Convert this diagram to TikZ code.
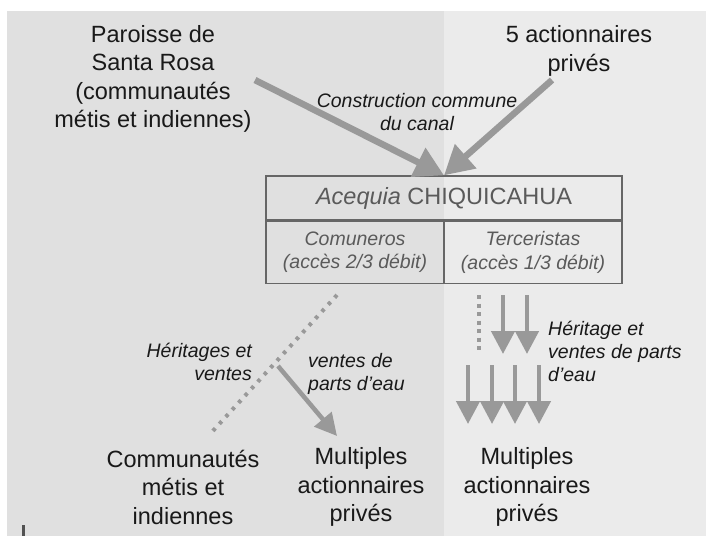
\documentclass[tikz,border=0pt]{standalone}
\usepackage{fontspec}
\setmainfont{Liberation Sans}
\usetikzlibrary{arrows.meta, positioning}

\definecolor{panelL}{HTML}{E0E0E0}
\definecolor{panelR}{HTML}{EBEBEB}
\definecolor{arrowgray}{HTML}{999999}
\definecolor{boxgray}{HTML}{666666}
\definecolor{cellgray}{HTML}{5A5A5A}

\begin{document}
\begin{tikzpicture}[x=1pt, y=-1pt,
  big/.style={font=\fontsize{23.5}{28.5}\selectfont, align=center, text=black!90, inner sep=0pt},
  lab/.style={font=\fontsize{19.5}{23}\selectfont\itshape, text=black!90, inner sep=0pt},
  cell/.style={draw=boxgray, line width=1.3pt, text=cellgray, inner sep=0pt, align=center},
  flow/.style={draw=arrowgray, line width=4.5pt, -{Triangle[length=23pt, width=23pt]}},
  dots/.style={draw=arrowgray, line width=4pt, dash pattern=on 4pt off 4.5pt}]
  \useasboundingbox (0,0) rectangle (706,536);

  % Background panels
  \fill[white] (0,0) rectangle (706,536);
  \fill[panelL] (7,11) rectangle (444,536);
  \fill[panelR] (444,11) rectangle (706,536);
  \draw[line width=3pt, color=boxgray!80!black] (23,525) -- (23,536);

  % Founders
  \node[big] (paroisse) at (153,79) {Paroisse de\\Santa Rosa\\(communautés\\métis et indiennes)};
  \node[big] (prives) at (579,51) {5 actionnaires\\privés};

  % Canal table
  \node[cell, minimum width=356pt, minimum height=44pt,
        font=\fontsize{23.5}{27}\selectfont] (acequia) at (444,198) {\textit{Acequia} CHIQUICAHUA};
  \node[cell, minimum width=178pt, minimum height=62pt, anchor=north west,
        font=\fontsize{19.5}{23.5}\selectfont\itshape] (comuneros) at (acequia.south west)
        {Comuneros\\(accès 2/3 débit)};
  \node[cell, minimum width=178pt, minimum height=62pt, anchor=north east,
        font=\fontsize{19.5}{23.5}\selectfont\itshape] (terceristas) at (acequia.south east)
        {Terceristas\\(accès 1/3 débit)};

  % Construction arrows
  \coordinate (pStart) at (255,80);
  \coordinate (aStart) at (552,80);
  \draw[flow, line width=6.5pt, -{Triangle[length=29pt, width=31pt]}] (pStart) -- (acequia.north);
  \draw[flow, line width=6.5pt, -{Triangle[length=29pt, width=31pt]}] (aStart) -- (acequia.north);
  \node[lab, align=center] (construction) at (417,112) {Construction commune\\du canal};

  % Comuneros side
  \coordinate (dotTop) at (337,295);
  \coordinate (dotBot) at (211,433);
  \draw[dots, dash pattern=on 3.5pt off 6pt] (dotTop) -- (dotBot);
  \coordinate (venteStart) at (278,366);
  \coordinate (venteEnd) at (337,436);
  \draw[flow, -{Triangle[length=22pt, width=22pt]}] (venteStart) -- (venteEnd);
  \node[lab, align=right, anchor=east] (heritages) at (252,362) {Héritages et\\ventes};
  \node[lab, align=left, anchor=west] (ventes) at (308,374) {ventes de\\parts d’eau};

  % Terceristas side
  \coordinate (rDotTop) at (479,295);
  \coordinate (rDotBot) at (479,352);
  \draw[dots] (rDotTop) -- (rDotBot);
  \foreach \x in {503,527} {
    \draw[flow] (\x,295) -- (\x,354);
  }
  \foreach \x in {468,492,515,539} {
    \draw[flow] (\x,365) -- (\x,424);
  }
  \node[lab, align=left, anchor=west] (heritage) at (548,351) {Héritage et\\ventes de parts\\d’eau};

  % Outcomes
  \node[big] (communautes) at (183,487) {Communautés\\métis et\\indiennes};
  \node[big] (multiplesL) at (361,487) {Multiples\\actionnaires\\privés};
  \node[big] (multiplesR) at (527,487) {Multiples\\actionnaires\\privés};
\end{tikzpicture}
\end{document}
